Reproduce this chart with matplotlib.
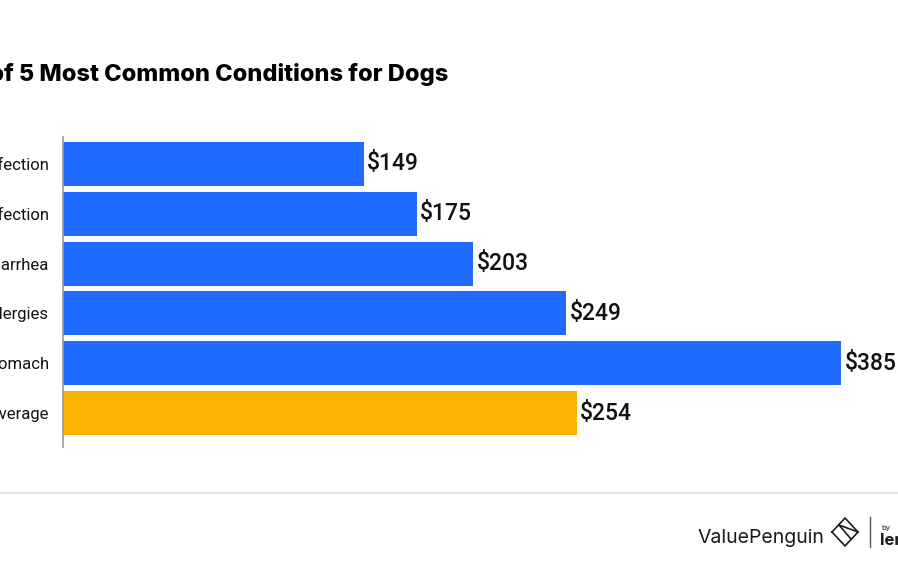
import matplotlib
matplotlib.use("Agg")
import matplotlib.pyplot as plt
from matplotlib.lines import Line2D

categories = ["Ear infection", "Skin infection", "Diarrhea", "Allergies", "Upset stomach", "Average"]
values = [149, 175, 203, 249, 385, 254]
value_labels = ["$149", "$175", "$203", "$249", "$385", "$254"]
colors = ["#1F6BFF", "#1F6BFF", "#1F6BFF", "#1F6BFF", "#1F6BFF", "#F9B300"]
title = "Average Cost of 5 Most Common Conditions for Dogs"

W, H = 898, 575
fig = plt.figure(figsize=(W / 100, H / 100), dpi=100)
fig.patch.set_facecolor("white")

ax = fig.add_axes([63 / W, (H - 447) / H, 1 - 63 / W, 310 / H])
ypos = list(range(len(categories)))
ax.barh(ypos, values, height=0.885, color=colors)
ax.set_xlim(0, 413)
ax.set_ylim(5.68, -0.54)
for s in ["top", "right", "bottom"]:
    ax.spines[s].set_visible(False)
ax.spines["left"].set_color("#9a9a9a")
ax.spines["left"].set_linewidth(1.2)
ax.set_xticks([])
ax.set_yticks(ypos)
ax.set_yticklabels(categories, family="Roboto", fontsize=12, color="#111111")
ax.tick_params(axis="y", length=0, pad=10)
for y, v, lab in zip(ypos, values, value_labels):
    ax.text(v + 1.5, y, lab, va="center", ha="left", family="Roboto",
            fontweight="medium", fontsize=16.5, color="#111111", clip_on=False)

fig.text(448 / W, (H - 75) / H, title, ha="right", va="center",
         family="Inter", fontweight="heavy", fontsize=17, color="#000000")

# separator line
fig.add_artist(Line2D([0, 897 / W], [(H - 493) / H] * 2, color="#e2e2e2", lw=1.5))

# footer branding
fig.text(697 / W, (H - 538) / H, "ValuePenguin", ha="left", va="center",
         family="Inter", fontsize=14, color="#1a1a1a")
# simple logo mark
cx, cy = 845, 532
pts = [(cx - 13, cy), (cx, cy - 14), (cx + 13, cy), (cx, cy + 14), (cx - 13, cy)]
fig.add_artist(Line2D([p[0] / W for p in pts], [(H - p[1]) / H for p in pts],
                      color="#1a1a1a", lw=1.2))
fig.add_artist(Line2D([(cx - 6) / W, (cx + 6) / W], [(H - cy + 7) / H, (H - cy - 7) / H],
                      color="#1a1a1a", lw=1.2))
fig.add_artist(Line2D([(cx - 6) / W, (cx + 13) / W], [(H - cy + 7) / H, (H - cy) / H],
                      color="#1a1a1a", lw=1.2))
fig.add_artist(Line2D([870 / W, 870 / W], [(H - 517) / H, (H - 547) / H],
                      color="#555555", lw=1))
fig.text(881 / W, (H - 528) / H, "by", ha="left", va="center",
         family="Inter", fontsize=5.5, color="#1a1a1a")
fig.text(880 / W, (H - 540) / H, "lendingtree", ha="left", va="center",
         family="Inter", fontweight="bold", fontsize=12, color="#1a1a1a")

fig.savefig("out.png", dpi=100, facecolor="white")
